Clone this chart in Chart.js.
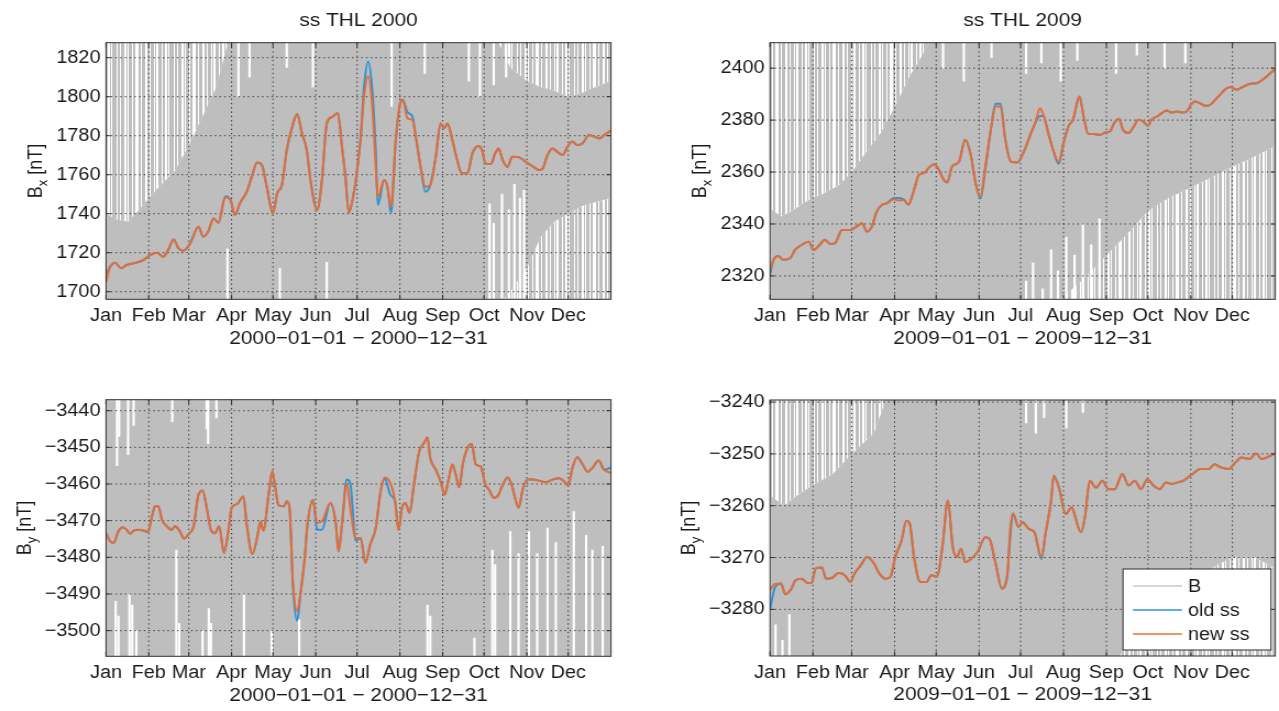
<!DOCTYPE html>
<html>
<head>
<meta charset="utf-8">
<title>ss THL 2000 / 2009</title>
<script src="https://cdn.jsdelivr.net/npm/chart.js@4.4.1/dist/chart.umd.min.js"></script>
<style>
  html, body { margin: 0; padding: 0; background: #fff; }
  #fig { position: relative; width: 1279px; height: 711px; overflow: hidden; }
  #fig canvas { position: absolute; }
</style>
</head>
<body>
<div id="fig">
  <canvas id="tl"></canvas>
  <canvas id="tr"></canvas>
  <canvas id="bl"></canvas>
  <canvas id="br"></canvas>
</div>
<script>
const months = ["Jan", "Feb", "Mar", "Apr", "May", "Jun", "Jul", "Aug", "Sep", "Oct", "Nov", "Dec"];
const monthStarts2000 = [0, 31, 60, 91, 121, 152, 182, 213, 244, 274, 305, 335];
const monthStarts2009 = [0, 31, 59, 90, 120, 151, 181, 212, 243, 273, 304, 334];

// ---- Bx 2000 ----
const tlTicks = [1700, 1720, 1740, 1760, 1780, 1800, 1820];
const tlDays = [0, 3, 6.5, 11, 15, 22, 27, 32, 37, 41.5, 45, 49, 52.5, 56, 61, 67, 70.5, 74, 78, 81.5,
  86.5, 90, 93.5, 97, 102, 106, 109.5, 113, 116.5, 121, 124, 127.5, 131, 135, 138.5, 142, 145.5, 148.5, 153, 156.5,
  160, 164, 168, 171, 173.5, 176, 179.5, 181, 184.5, 187, 190, 193, 195.5, 197, 201.5, 204, 206.5, 210, 213.5, 215,
  218.5, 222, 224.5, 228, 231.5, 235, 239, 242.5, 245, 247.5, 251, 254.5, 258, 262, 265.5, 270, 272.5, 275, 279, 282,
  284.5, 287.5, 291, 294.5, 299.5, 304, 309, 314, 316.5, 320, 323.5, 327, 331, 334.5, 338, 341.5, 345.5, 350, 354, 357.5,
  361, 366];
const tlNew = [1705, 1712.8, 1714.9, 1712, 1713.7, 1714.9, 1716.2, 1718.8, 1720, 1717.9,
  1721.4, 1726.8, 1722.2, 1721, 1724.8, 1733.3, 1728.2, 1730.8, 1737.6, 1735.4,
  1748.4, 1747.4, 1739.3, 1745.3, 1751.3, 1759.8, 1766.2, 1764.9, 1753.8, 1740.2,
  1750.4, 1754.7, 1772.6, 1784.6, 1791.1, 1781.2, 1772.6, 1755.6, 1741.9, 1757.3,
  1786.3, 1789.7, 1791.5, 1774.4, 1759, 1740.5, 1750.4, 1757, 1778, 1800,
  1810.5, 1794.9, 1764, 1748.7, 1757.3, 1753.8, 1743.6, 1777.8, 1797.4, 1798.6,
  1788.9, 1788, 1779.5, 1764, 1753.8, 1754.7, 1769.2, 1786.3, 1783.8, 1786.3,
  1777.8, 1767.5, 1760.7, 1760.7, 1770.9, 1774.7, 1772.6, 1765.8, 1765.5, 1770.9,
  1773.5, 1767.5, 1764, 1769.2, 1768.9, 1766.7, 1764.4, 1762.4, 1763.2, 1770.1,
  1773.5, 1771.8, 1770.1, 1774.4, 1777, 1775.2, 1776.1, 1780.3, 1779.5, 1778.6,
  1780.3, 1782.6];
const tlOld = [1709, 1712.8, 1714.9, 1712, 1713.7, 1714.9, 1716.2, 1718.8, 1720, 1717.9,
  1721.4, 1726.8, 1722.2, 1721, 1724.8, 1733.3, 1728.2, 1730.8, 1737.6, 1735.4,
  1749, 1747.4, 1739.3, 1745.3, 1751.3, 1759.8, 1766.2, 1764.9, 1753.8, 1740.2,
  1750.4, 1754.7, 1772.6, 1784.6, 1791.1, 1781.2, 1772.6, 1755.6, 1741.9, 1757.3,
  1786.3, 1789.7, 1791.5, 1774.4, 1759, 1740.5, 1750.4, 1757, 1779, 1805,
  1818, 1803, 1772, 1744.4, 1757.3, 1753.8, 1740.5, 1777.8, 1797.4, 1798.6,
  1792, 1790, 1779.5, 1764, 1751.3, 1754.7, 1769.2, 1786.3, 1783.8, 1786.3,
  1777.8, 1767.5, 1760.7, 1760.7, 1770.9, 1774.7, 1772.6, 1765.8, 1765.5, 1770.9,
  1773.5, 1767.5, 1764, 1769.2, 1768.9, 1766.7, 1764.4, 1762.4, 1763.2, 1770.1,
  1773.5, 1771.8, 1770.1, 1774.4, 1777, 1775.2, 1776.1, 1780.3, 1779.5, 1778.6,
  1780.3, 1782.6];
// raw B: where it covers the plot solidly; beyond that it only shows as streaks
const tlBandDays = [0, 8, 16, 24, 31, 40, 50, 60, 70, 80, 91, 100, 121, 152, 182, 213, 244, 262, 274, 283,
  293, 305, 315, 325, 335, 345, 355, 366];
const tlDenseHi = [1740, 1737, 1736, 1742, 1748, 1755, 1762, 1775, 1790, 1805, 1835, 1835, 1835, 1835, 1835, 1835, 1835, 1835, 1835, 1830,
  1815, 1808, 1805, 1803, 1800, 1802, 1805, 1808];
const tlDenseLo = [1690, 1690, 1690, 1690, 1690, 1690, 1690, 1690, 1690, 1690, 1690, 1690, 1690, 1690, 1690, 1690, 1690, 1690, 1690, 1692,
  1700, 1712, 1728, 1736, 1740, 1744, 1746, 1748];
const tlGapDays = [88, 126, 160, 278, 281, 287, 292, 296, 300, 303, 96, 104, 131, 150, 207, 231, 263, 271, 281, 290];
const tlGapLo = [1690, 1690, 1690, 1690, 1690, 1690, 1690, 1690, 1690, 1690, 1800, 1810, 1815, 1805, 1795, 1812, 1808, 1800, 1806, 1810];
const tlGapHi = [1722, 1712, 1715, 1745, 1735, 1750, 1742, 1755, 1748, 1752, 1830, 1830, 1830, 1830, 1830, 1830, 1830, 1830, 1830, 1830];

// ---- Bx 2009 ----
const trTicks = [2320, 2340, 2360, 2380, 2400];
const trDays = [0, 2.5, 6, 9.5, 14.5, 18, 23, 28, 31.5, 36, 39.5, 43.5, 47, 52, 58, 62.5, 66.5, 70, 73.5, 77,
  81, 84.5, 89.5, 93, 96.5, 100, 104, 107.5, 111, 114.5, 118.5, 122, 125.5, 128, 131.5, 136.5, 141, 145, 148.5, 152,
  155.5, 159.5, 163, 166.5, 170, 174, 178.5, 183.5, 188, 191.5, 195, 197.5, 201, 204.5, 208.5, 212, 215.5, 219, 223.5, 226.5,
  230, 233.5, 238.5, 242, 245.5, 248.5, 252, 255, 259, 262.5, 266, 269.5, 273, 275.5, 279.5, 283, 286.5, 290, 294, 297.5,
  301, 304, 307, 310.5, 314.5, 318, 321.5, 325, 328.5, 332.5, 337, 342, 347, 351.5, 356.5, 361.5, 365];
const trNew = [2322.3, 2326.2, 2327.7, 2326.2, 2326.8, 2330, 2332, 2333.2, 2330, 2332,
  2333.9, 2332.3, 2332.6, 2337.7, 2337.7, 2339, 2340.3, 2337.1, 2339, 2344.8,
  2347.4, 2348, 2349.5, 2349, 2349.3, 2347.4, 2353.1, 2358.9, 2359.6, 2361.5,
  2363, 2360.8, 2357, 2356, 2362.1, 2364, 2372.4, 2366.6, 2355.7, 2350.6,
  2362.1, 2376.3, 2385.2, 2385.2, 2372.4, 2364, 2363.7, 2368, 2374.3, 2378.8,
  2384.6, 2382, 2375, 2368.5, 2364, 2371.1, 2377.5, 2380.4, 2389.1, 2381.4,
  2374.6, 2374.6, 2374.3, 2375.2, 2375.6, 2378.8, 2380.5, 2376.3, 2375, 2377.3,
  2380.1, 2379.5, 2377.8, 2380.1, 2381.4, 2382.7, 2383.7, 2382.9, 2383.3, 2382.9,
  2383.3, 2385.9, 2387.2, 2386.5, 2385.5, 2385.9, 2387.8, 2389.7, 2391.7, 2392.7,
  2391.7, 2392.9, 2394, 2394.2, 2395.8, 2398.1, 2399.6];
const trOld = [2320.5, 2326.2, 2327.7, 2326.2, 2326.8, 2330, 2332, 2333.2, 2330, 2332,
  2333.9, 2332.3, 2332.6, 2337.7, 2337.7, 2339, 2340.3, 2337.1, 2339, 2344.8,
  2347.4, 2348, 2350, 2350, 2349.5, 2347.4, 2353.1, 2358.9, 2359.6, 2361.5,
  2363, 2360.8, 2357, 2356, 2362.1, 2364, 2372.4, 2366.6, 2355.7, 2349.8,
  2361, 2376.3, 2386.3, 2386.3, 2372.4, 2364, 2363.7, 2368, 2374.3, 2378.8,
  2381.6, 2381.6, 2375, 2368.5, 2363.2, 2371.1, 2377.5, 2380.4, 2389.1, 2381.4,
  2374.6, 2374.6, 2374.3, 2375.2, 2375.6, 2378.8, 2380.5, 2376.3, 2375, 2377.3,
  2380.1, 2379.5, 2377.8, 2380.1, 2381.4, 2382.7, 2383.7, 2382.9, 2383.3, 2382.9,
  2383.3, 2385.9, 2387.2, 2386.5, 2385.5, 2385.9, 2387.8, 2389.7, 2391.7, 2392.7,
  2391.7, 2392.9, 2394, 2394.2, 2395.8, 2398.1, 2399.6];
const trBandDays = [0, 8, 16, 24, 31, 40, 50, 59, 70, 80, 90, 100, 110, 120, 151, 181, 200, 212, 225, 243,
  258, 273, 288, 304, 319, 334, 350, 365];
const trDenseHi = [2346, 2343, 2345, 2348, 2350, 2352, 2355, 2360, 2368, 2375, 2385, 2396, 2405, 2415, 2415, 2415, 2415, 2415, 2415, 2415,
  2415, 2415, 2415, 2415, 2415, 2415, 2415, 2415];
const trDenseLo = [2305, 2305, 2305, 2305, 2305, 2305, 2305, 2305, 2305, 2305, 2305, 2305, 2305, 2305, 2305, 2305, 2308, 2312, 2318, 2328,
  2336, 2345, 2350, 2354, 2358, 2362, 2366, 2370];
const trGapDays = [185, 190, 197, 203, 208, 214, 220, 226, 232, 238, 125, 140, 160, 185, 196, 210, 222, 250, 265, 285, 300];
const trGapLo = [2305, 2305, 2305, 2305, 2305, 2305, 2305, 2305, 2305, 2305, 2400, 2395, 2404, 2398, 2402, 2395, 2403, 2398, 2405, 2400, 2402];
const trGapHi = [2318, 2325, 2315, 2330, 2322, 2335, 2328, 2340, 2332, 2342, 2412, 2412, 2412, 2412, 2412, 2412, 2412, 2412, 2412, 2412, 2412];

// ---- By 2000 ----
const blTicks = [-3500, -3490, -3480, -3470, -3460, -3450, -3440];
const blDays = [0, 3, 5.5, 9, 12, 15, 17.5, 20, 23.5, 27, 30.5, 33, 35.5, 38, 40.5, 44, 47.5, 50, 53.5, 56.5,
  60, 63.5, 67, 70, 73, 76, 79, 82, 85.5, 89, 91, 95, 99.5, 102, 106, 109.5, 112, 114, 118, 120.5,
  122.5, 125, 129, 131, 133, 135.5, 138.5, 141, 144, 146, 150, 153, 156.5, 162.5, 166.5, 168.5, 171, 174.5, 177, 181,
  184.5, 188, 191.5, 195.5, 199, 202, 206, 209.5, 212, 214.5, 217, 220, 223, 227, 230.5, 233, 235, 239, 242.5, 245.5,
  248.5, 251, 253.5, 256, 258.5, 262, 265, 268, 271.5, 275, 277.5, 281, 284.5, 287.5, 291, 294, 296.5, 299, 302, 305.5,
  309, 314, 318.5, 323.5, 328.5, 332, 335, 338, 341.5, 345.5, 349, 352.5, 357, 361, 366];
const blNew = [-3473.4, -3475.6, -3476.1, -3472.9, -3471.8, -3472.5, -3473.6, -3472.7, -3472.5, -3472.7,
  -3473.1, -3469.3, -3466.1, -3466.1, -3469.7, -3471.5, -3472.5, -3471.5, -3472.9, -3474.9,
  -3473.6, -3471.5, -3462.9, -3461.8, -3466.5, -3472.5, -3473.4, -3471.5, -3478.8, -3472,
  -3466.5, -3465.5, -3463.4, -3471.1, -3479.1, -3474.7, -3470.2, -3472.7, -3462.5, -3456.5,
  -3460.6, -3465.8, -3466.1, -3464.7, -3466.5, -3487, -3494.7, -3489.7, -3480.2, -3471.1,
  -3464.3, -3470.6, -3470.2, -3465.2, -3470.6, -3478.4, -3471.1, -3459.7, -3466.5, -3474.7,
  -3474.7, -3481.5, -3476.5, -3472, -3462, -3458.2, -3459.7, -3464.7, -3472.5, -3466.5,
  -3465.2, -3467.9, -3460.6, -3451.1, -3448.8, -3447.3, -3452.9, -3456.1, -3459.3, -3462.9,
  -3458.4, -3454.7, -3457.5, -3460.9, -3454.7, -3450.2, -3449.1, -3454.7, -3455.2, -3460.2,
  -3461.5, -3463.8, -3462.9, -3460.2, -3458.2, -3460.2, -3463.8, -3466.5, -3461.5, -3458.8,
  -3458.8, -3459.1, -3459.5, -3458.8, -3458.4, -3459.3, -3460.4, -3455.6, -3452.7, -3454.7,
  -3456.7, -3455.6, -3453.6, -3456.1, -3457];
const blOld = [-3473.4, -3475.6, -3476.1, -3472.9, -3471.8, -3472.5, -3473.6, -3472.7, -3472.5, -3472.7,
  -3473.1, -3469.3, -3466.1, -3466.1, -3469.7, -3471.5, -3472.5, -3471.5, -3472.9, -3474.9,
  -3473.6, -3471.5, -3462.9, -3461.8, -3466.5, -3472.5, -3473.4, -3471.5, -3478.8, -3472,
  -3466.5, -3465.5, -3463.4, -3471.1, -3479.1, -3474.7, -3470.2, -3472.7, -3462.5, -3456.5,
  -3460.6, -3465.8, -3466.1, -3464.7, -3466.5, -3488, -3497.3, -3489.7, -3480.2, -3471.1,
  -3464.3, -3472.5, -3472.5, -3465.2, -3470.6, -3478.4, -3471.1, -3458.8, -3459.8, -3475.5,
  -3474.7, -3481.5, -3476.5, -3472, -3462, -3458.5, -3462.9, -3464.7, -3472.5, -3466.5,
  -3465.2, -3467.9, -3460.6, -3451.1, -3448.8, -3447.3, -3452.9, -3456.1, -3459.3, -3462.9,
  -3458.4, -3454.7, -3457.5, -3460.9, -3454.7, -3450.2, -3449.1, -3454.7, -3455.2, -3460.2,
  -3461.5, -3463.8, -3462.9, -3460.2, -3458.2, -3460.2, -3463.8, -3466.5, -3461.5, -3458.8,
  -3458.8, -3459.1, -3459.5, -3458.8, -3458.4, -3459.3, -3460.4, -3455.6, -3452.7, -3454.7,
  -3456.7, -3455.6, -3453.6, -3456.1, -3455.5];
const blBandDays = [0, 366];
const blDenseHi = [-3430, -3430];
const blDenseLo = [-3510, -3510];
const blGapDays = [8, 9.5, 16, 20, 48, 73, 74, 80,
  7, 9, 17, 19, 22, 51, 53, 70, 74.5, 76, 100, 120, 140,
  233, 235, 267, 280, 282, 293, 299, 306.5, 312.5, 320, 326, 339, 348, 352.5, 360];
const blGapLo = [-3455, -3447, -3452, -3444, -3443, -3445, -3449, -3442,
  -3510, -3510, -3510, -3510, -3510, -3510, -3510, -3510, -3510, -3510, -3510, -3510, -3510,
  -3510, -3510, -3510, -3510, -3510, -3510, -3510, -3510, -3510, -3510, -3510, -3510, -3510, -3510, -3510];
const blGapHi = [-3430, -3430, -3430, -3430, -3430, -3430, -3430, -3430,
  -3492, -3496, -3490, -3493, -3500, -3478, -3498, -3500, -3494, -3498, -3490, -3500, -3497,
  -3493, -3496, -3502, -3478, -3482, -3473, -3479, -3473, -3479, -3472, -3476, -3467.5, -3474, -3478, -3477];

// ---- By 2009 ----
const brTicks = [-3280, -3270, -3260, -3250, -3240];
const brDays = [0, 3.5, 8, 11, 15, 18.5, 23, 27, 30, 33, 37.5, 40.5, 45, 49.5, 54, 58, 61, 65.5, 70, 74.5,
  79, 83.5, 87, 90.5, 95, 98.5, 101, 104, 108.5, 113, 116.5, 120.5, 124.5, 128.5, 132, 135, 138, 141, 145.5, 150,
  155.5, 158.5, 163, 167.5, 171.5, 173.5, 175.5, 179.5, 182.5, 187, 191, 196, 199, 203, 205, 209, 213.5, 218, 220.5, 224.5,
  227.5, 231, 235.5, 240, 244.5, 249, 254.5, 259, 263.5, 268, 272.5, 277, 281.5, 286, 290, 294.5, 299, 305, 311, 317,
  321, 325.5, 331.5, 336, 340.5, 346.5, 351, 355, 359.5, 365];
const brNew = [-3276.3, -3275.1, -3275, -3277.1, -3276.2, -3274.4, -3274.1, -3274.9, -3274.9, -3272.1,
  -3271.9, -3274.1, -3273.9, -3273, -3273.4, -3274.7, -3273.1, -3271.5, -3269.9, -3270.9,
  -3273.1, -3274.1, -3273.7, -3269.9, -3266.7, -3262.9, -3263.5, -3269.9, -3274.7, -3274.7,
  -3273.4, -3273.7, -3268, -3259, -3268, -3269.9, -3268.3, -3270.9, -3270.2, -3268.9,
  -3266.1, -3266.4, -3271.2, -3276, -3273.1, -3264.5, -3261.5, -3264.1, -3263.2, -3264.5,
  -3265.1, -3269.9, -3265.4, -3259, -3254.2, -3256.8, -3261.6, -3260.3, -3262.2, -3265.1,
  -3262.2, -3255.2, -3256.5, -3255.2, -3256.8, -3256.8, -3253.9, -3256.1, -3255.2, -3256.8,
  -3254.9, -3256.1, -3256.8, -3255.5, -3255.8, -3255.5, -3255.1, -3253.9, -3252.9, -3252.9,
  -3252, -3252.6, -3252.9, -3251.7, -3250.7, -3251, -3249.9, -3251, -3250.6, -3249.9];
const brOld = [-3280, -3275.8, -3275, -3277.1, -3276.2, -3274.4, -3274.1, -3274.9, -3274.9, -3272.1,
  -3271.9, -3274.1, -3273.9, -3273, -3273.4, -3274.7, -3273.1, -3271.5, -3269.9, -3270.9,
  -3273.1, -3274.1, -3273.7, -3269.9, -3266.7, -3262.9, -3263.5, -3269.9, -3274.7, -3274.7,
  -3273.4, -3273.7, -3268, -3259, -3268, -3269.9, -3268.3, -3270.9, -3270.2, -3268.9,
  -3266.1, -3266.4, -3271.2, -3276, -3273.1, -3266, -3261.5, -3264.1, -3263.2, -3264.5,
  -3265.1, -3270.3, -3265.4, -3259, -3254.2, -3256.8, -3261.6, -3260.3, -3262.2, -3265.1,
  -3262.2, -3255.2, -3256.5, -3255.2, -3256.8, -3256.8, -3253.9, -3256.1, -3255.2, -3256.8,
  -3254.9, -3256.1, -3256.8, -3255.5, -3255.8, -3255.5, -3255.1, -3253.9, -3252.9, -3252.9,
  -3252, -3252.6, -3252.9, -3251.7, -3250.7, -3251, -3249.9, -3251, -3250.6, -3249.9];
const brBandDays = [0, 10, 20, 31, 45, 59, 75, 90, 120, 181, 243, 258, 273, 288, 304, 319, 334, 350, 365];
const brDenseHi = [-3258, -3260, -3258, -3256, -3254, -3250, -3246, -3235, -3235, -3235, -3235, -3235, -3235, -3235, -3235, -3235, -3235, -3235, -3235];
const brDenseLo = [-3295, -3295, -3295, -3295, -3295, -3295, -3295, -3295, -3295, -3295, -3295, -3286, -3281, -3277, -3274, -3272, -3270, -3270, -3272];
const brGapDays = [185, 192, 198, 214, 226, 4, 9, 14];
const brGapLo = [-3244, -3246, -3243, -3245, -3242, -3295, -3295, -3295];
const brGapHi = [-3235, -3235, -3235, -3235, -3235, -3283, -3286, -3281];

// ---- look ----
const STRETCH = 1.1; // the source raster is a little wider than tall
const FONT = '"Liberation Sans", Arial, Helvetica, sans-serif';
const TEXT = "#1a1a1a";
const FRAME = "#2e2e2e";
const GRAY = "#bebebe";
const BLUE = "#2b95d3";
const ORANGE = "#e86c35";
const TICK_PAD = 5;
// column mask for the streaky parts of the raw record (1 = grey column)
const STREAKS = "1101101110010111011000110111001101110100111011001011";

Chart.defaults.font.family = FONT;

function pts(xs, ys) {
  return xs.map((x, i) => ({ x, y: ys[i] }));
}

function bars(xs, lo, hi) {
  return xs.map((x, i) => ({ x, y: [lo[i], hi[i]] }));
}

function num(v) {
  return v < 0 ? "\u2212" + Math.abs(v) : String(v);
}

function streakPattern(ctx) {
  const c = document.createElement("canvas");
  c.width = STREAKS.length;
  c.height = 4;
  const g = c.getContext("2d");
  g.fillStyle = GRAY;
  [...STREAKS].forEach((s, i) => {
    if (s === "1") g.fillRect(i, 0, 1, 4);
  });
  return ctx.createPattern(c, "repeat");
}

const panels = [
  {
    id: "tl", box: [0, 0, 640, 355], area: [106, 42.7, 611, 299.3],
    title: "ss THL 2000", xLabel: "2000\u221201\u221201 \u2212 2000\u221212\u221231", comp: "x",
    xMax: 366, starts: monthStarts2000, yMin: 1696.1, yMax: 1827.7, yTicks: tlTicks,
    days: tlDays, oldSs: tlOld, newSs: tlNew,
    band: [tlBandDays, tlDenseHi, tlDenseLo], gaps: [tlGapDays, tlGapLo, tlGapHi],
  },
  {
    id: "tr", box: [640, 0, 639, 355], area: [770, 42.7, 1275.3, 299.3],
    title: "ss THL 2009", xLabel: "2009\u221201\u221201 \u2212 2009\u221212\u221231", comp: "x",
    xMax: 365, starts: monthStarts2009, yMin: 2311, yMax: 2409.8, yTicks: trTicks,
    days: trDays, oldSs: trOld, newSs: trNew,
    band: [trBandDays, trDenseHi, trDenseLo], gaps: [trGapDays, trGapLo, trGapHi],
  },
  {
    id: "bl", box: [0, 355, 640, 356], area: [106, 399.7, 611, 656.3],
    title: "", xLabel: "2000\u221201\u221201 \u2212 2000\u221212\u221231", comp: "y",
    xMax: 366, starts: monthStarts2000, yMin: -3507, yMax: -3437, yTicks: blTicks,
    days: blDays, oldSs: blOld, newSs: blNew,
    band: [blBandDays, blDenseHi, blDenseLo], gaps: [blGapDays, blGapLo, blGapHi],
  },
  {
    id: "br", box: [640, 355, 639, 356], area: [770, 400, 1275.3, 656],
    title: "", xLabel: "2009\u221201\u221201 \u2212 2009\u221212\u221231", comp: "y",
    xMax: 365, starts: monthStarts2009, yMin: -3289, yMax: -3239.6, yTicks: brTicks,
    days: brDays, oldSs: brOld, newSs: brNew,
    band: [brBandDays, brDenseHi, brDenseLo], gaps: [brGapDays, brGapLo, brGapHi],
    legend: { box: [1123, 569, 1271, 650], rows: [586, 610, 634], line: [1133, 1182], text: 1188 },
  },
];

// grid goes over the grey raw data but under the two ss curves
function drawGrid(chart) {
  const { ctx, chartArea: a, scales: { x, y } } = chart;
  ctx.save();
  ctx.strokeStyle = "#333";
  ctx.lineWidth = 1;
  ctx.setLineDash([1.3, 3]);
  x.ticks.forEach((t) => {
    const px = x.getPixelForValue(t.value);
    if (px <= a.left + 1) return;
    ctx.beginPath();
    ctx.moveTo(px, a.top);
    ctx.lineTo(px, a.bottom);
    ctx.stroke();
  });
  y.ticks.forEach((t) => {
    const py = y.getPixelForValue(t.value);
    ctx.beginPath();
    ctx.moveTo(a.left, py);
    ctx.lineTo(a.right, py);
    ctx.stroke();
  });
  ctx.restore();
}

function drawFrame(chart, opts) {
  const { ctx, chartArea: a, scales: { x, y } } = chart;
  ctx.save();
  ctx.strokeStyle = FRAME;
  ctx.lineWidth = 1;
  ctx.strokeRect(a.left, a.top, a.right - a.left, a.bottom - a.top);
  ctx.beginPath();
  x.ticks.forEach((t) => {
    const px = x.getPixelForValue(t.value);
    ctx.moveTo(px, a.bottom);
    ctx.lineTo(px, a.bottom - 4.5);
    ctx.moveTo(px, a.top);
    ctx.lineTo(px, a.top + 4.5);
  });
  y.ticks.forEach((t) => {
    const py = y.getPixelForValue(t.value);
    ctx.moveTo(a.left, py);
    ctx.lineTo(a.left + 4, py);
    ctx.moveTo(a.right, py);
    ctx.lineTo(a.right - 4, py);
  });
  ctx.stroke();

  const cx = (a.left + a.right) / 2;
  ctx.fillStyle = TEXT;
  ctx.textAlign = "center";
  ctx.textBaseline = "middle";
  ctx.font = `19px ${FONT}`;
  if (opts.title) ctx.fillText(opts.title, cx, a.top - 21.5);
  ctx.fillText(opts.xLabel, cx, a.bottom + 39);

  // y label: B with a subscript component, then [nT]
  ctx.font = `18px ${FONT}`;
  const widest = Math.max(...y.ticks.map((t) => ctx.measureText(num(t.value)).width));
  const baseX = a.left - TICK_PAD - widest - 13;
  const cy = (a.top + a.bottom) / 2;
  ctx.translate(baseX, cy);
  ctx.rotate(-Math.PI / 2);
  ctx.textAlign = "left";
  ctx.textBaseline = "alphabetic";
  const wB = ctx.measureText("B").width;
  const wU = ctx.measureText(" [nT]").width;
  ctx.font = `13px ${FONT}`;
  const wS = ctx.measureText(opts.comp).width;
  const start = -(wB + wS + wU) / 2;
  ctx.font = `18px ${FONT}`;
  ctx.fillText("B", start, 0);
  ctx.fillText(" [nT]", start + wB + wS, 0);
  ctx.font = `13px ${FONT}`;
  ctx.fillText(opts.comp, start + wB, 5);
  ctx.restore();

  if (opts.legend) drawLegend(chart, opts.legend);
}

function drawLegend(chart, lg) {
  const { ctx } = chart;
  const items = chart.data.datasets.filter((d) => d.label);
  ctx.save();
  ctx.fillStyle = "#fff";
  ctx.strokeStyle = FRAME;
  ctx.lineWidth = 1;
  ctx.fillRect(lg.x0, lg.y0, lg.x1 - lg.x0, lg.y1 - lg.y0);
  ctx.strokeRect(lg.x0, lg.y0, lg.x1 - lg.x0, lg.y1 - lg.y0);
  ctx.font = `18px ${FONT}`;
  ctx.textAlign = "left";
  ctx.textBaseline = "middle";
  items.forEach((d, i) => {
    const ry = lg.rows[i];
    ctx.strokeStyle = d.legendColor;
    ctx.lineWidth = 1.6;
    ctx.beginPath();
    ctx.moveTo(lg.l0, ry);
    ctx.lineTo(lg.l1, ry);
    ctx.stroke();
    ctx.fillStyle = TEXT;
    ctx.fillText(d.label, lg.tx, ry + 1);
  });
  ctx.restore();
}

const matlabAxes = {
  id: "matlabAxes",
  afterDatasetDraw(chart, args) {
    if (args.index === 4) drawGrid(chart);
  },
  afterDraw(chart, args, opts) {
    drawFrame(chart, opts);
  },
};

function makeChart(p) {
  const canvas = document.getElementById(p.id);
  const [bx, by, bw, bh] = p.box;
  const iw = Math.round(bw / STRETCH);
  const sx = bw / iw;
  canvas.width = iw;
  canvas.height = bh;
  canvas.style.left = bx + "px";
  canvas.style.top = by + "px";
  canvas.style.width = bw + "px";
  canvas.style.height = bh + "px";

  const left = (p.area[0] - bx) / sx;
  const right = (p.area[2] - bx) / sx;
  const top = p.area[1] - by;
  const bottom = p.area[3] - by;

  let legend = null;
  if (p.legend) {
    const L = p.legend;
    legend = {
      x0: (L.box[0] - bx) / sx, x1: (L.box[2] - bx) / sx,
      y0: L.box[1] - by, y1: L.box[3] - by,
      rows: L.rows.map((r) => r - by),
      l0: (L.line[0] - bx) / sx, l1: (L.line[1] - bx) / sx,
      tx: (L.text - bx) / sx,
    };
  }

  const tickFont = { family: FONT, size: 18 };
  const [bDays, bHi, bLo] = p.band;
  const streaks = streakPattern(canvas.getContext("2d"));
  const hidden = "rgba(0,0,0,0)";

  return new Chart(canvas, {
    type: "line",
    data: {
      datasets: [
        {
          label: "B", legendColor: "#c9c9c9",
          data: pts(bDays, bHi), fill: "+1", backgroundColor: GRAY,
          borderColor: hidden, borderWidth: 0, pointRadius: 0, order: 10, clip: 0,
        },
        {
          data: pts(bDays, bLo), fill: false,
          borderColor: hidden, borderWidth: 0, pointRadius: 0, order: 10, clip: 0,
        },
        {
          data: pts(bDays, bHi), fill: "end", backgroundColor: streaks,
          borderColor: hidden, borderWidth: 0, pointRadius: 0, order: 11, clip: 0,
        },
        {
          data: pts(bDays, bLo), fill: "start", backgroundColor: streaks,
          borderColor: hidden, borderWidth: 0, pointRadius: 0, order: 11, clip: 0,
        },
        {
          type: "bar", data: bars(...p.gaps), backgroundColor: "#ffffff",
          barThickness: 1.5, grouped: false, borderWidth: 0, order: 8, clip: 0,
        },
        {
          label: "old ss", legendColor: BLUE,
          data: pts(p.days, p.oldSs), borderColor: BLUE, borderWidth: 2,
          pointRadius: 0, cubicInterpolationMode: "monotone", fill: false, order: 1, clip: 0,
        },
        {
          label: "new ss", legendColor: ORANGE,
          data: pts(p.days, p.newSs), borderColor: ORANGE, borderWidth: 2,
          pointRadius: 0, cubicInterpolationMode: "monotone", fill: false, order: 0, clip: 0,
        },
      ],
    },
    options: {
      responsive: false,
      animation: false,
      devicePixelRatio: 1,
      events: [],
      layout: { padding: { left: 0, top: top, right: iw - right, bottom: 0 } },
      plugins: {
        legend: { display: false },
        tooltip: { enabled: false },
        title: { display: false },
        matlabAxes: { title: p.title, xLabel: p.xLabel, comp: p.comp, legend },
      },
      scales: {
        x: {
          type: "linear", min: 0, max: p.xMax, offset: false,
          grid: { display: false, drawTicks: false },
          border: { display: false },
          afterBuildTicks: (s) => { s.ticks = p.starts.map((v) => ({ value: v })); },
          afterFit: (s) => { s.height = bh - bottom; },
          ticks: {
            autoSkip: false, maxRotation: 0, minRotation: 0, padding: 6,
            color: TEXT, font: tickFont,
            callback: (v, i) => months[i],
          },
        },
        y: {
          type: "linear", min: p.yMin, max: p.yMax,
          grid: { display: false, drawTicks: false },
          border: { display: false },
          afterBuildTicks: (s) => { s.ticks = p.yTicks.map((v) => ({ value: v })); },
          afterFit: (s) => { s.width = left; },
          ticks: { padding: TICK_PAD, color: TEXT, font: tickFont, callback: (v) => num(v) },
        },
      },
    },
    plugins: [matlabAxes],
  });
}

panels.forEach(makeChart);
</script>
</body>
</html>
